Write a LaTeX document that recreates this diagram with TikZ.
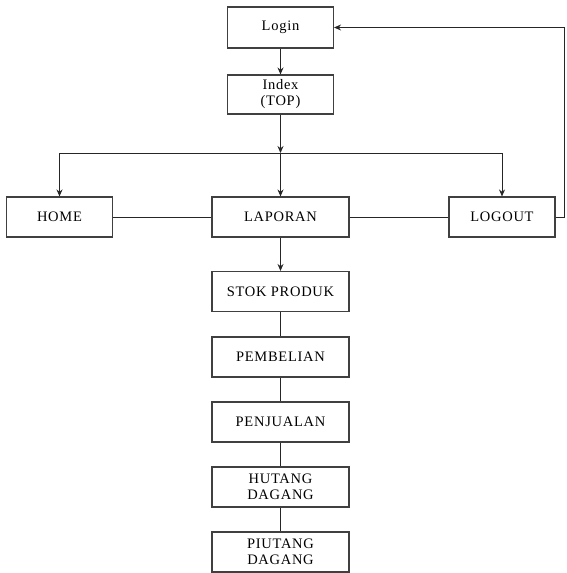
\documentclass[tikz,border=0pt]{standalone}
\usepackage{fontspec}
\setmainfont{Liberation Serif}
\usetikzlibrary{arrows.meta}

\begin{document}
\begin{tikzpicture}[x=1pt,y=-1pt,
    box/.style={draw=boxgray, line width=1.1pt, fill=white, minimum width=106pt,
      minimum height=40pt, inner sep=1pt, align=center,
      font=\fontsize{14.5}{16}\selectfont\addfontfeature{LetterSpace=5}},
    widebox/.style={box, minimum width=137pt},
    link/.style={draw=linegray, line width=0.9pt},
    arr/.style={link, -{Stealth[length=7pt,width=6pt]}}]
\definecolor{boxgray}{gray}{0.25}
\definecolor{linegray}{gray}{0.15}

   \useasboundingbox (0,0) rectangle (566,573);

   % top of the menu
   \node[box, minimum height=41pt] (login) at (280.5,27.5) {Login};
   \node[box, minimum height=39pt] (index) at (280.5,94.5) {Index\\(TOP)};

   % main row
   \node[box] (home) at (59.5,217) {HOME};
   \node[widebox] (laporan) at (280.5,217) {LAPORAN};
   \node[box] (logout) at (502,217) {LOGOUT};

   % report pages
   \foreach \name/\txt/\y in {stok/STOK PRODUK/291.5, pembelian/PEMBELIAN/357,
        penjualan/PENJUALAN/422, hutang/HUTANG\\DAGANG/487, piutang/PIUTANG\\DAGANG/552}
      {
      \node[widebox] (\name) at (280.5,\y) {\txt};
      }

   \coordinate (bus) at (280.5,153);
   \coordinate (corner) at (564,217);

   \draw[arr] (login) -- (index);
   \draw[arr] (index) -- (bus);
   \draw[arr] (bus) -- (laporan);
   \draw[arr] (bus) -| (home);
   \draw[arr] (bus) -| (logout);
   \draw[link] (home) -- (laporan);
   \draw[link] (laporan) -- (logout);
   \draw[arr] (laporan) -- (stok);
   \draw[link] (stok) -- (pembelian) -- (penjualan) -- (hutang) -- (piutang);

   %%%% back to login
   \draw[arr] (logout.east) -- (corner) |- (login.east);

\end{tikzpicture}
\end{document}
